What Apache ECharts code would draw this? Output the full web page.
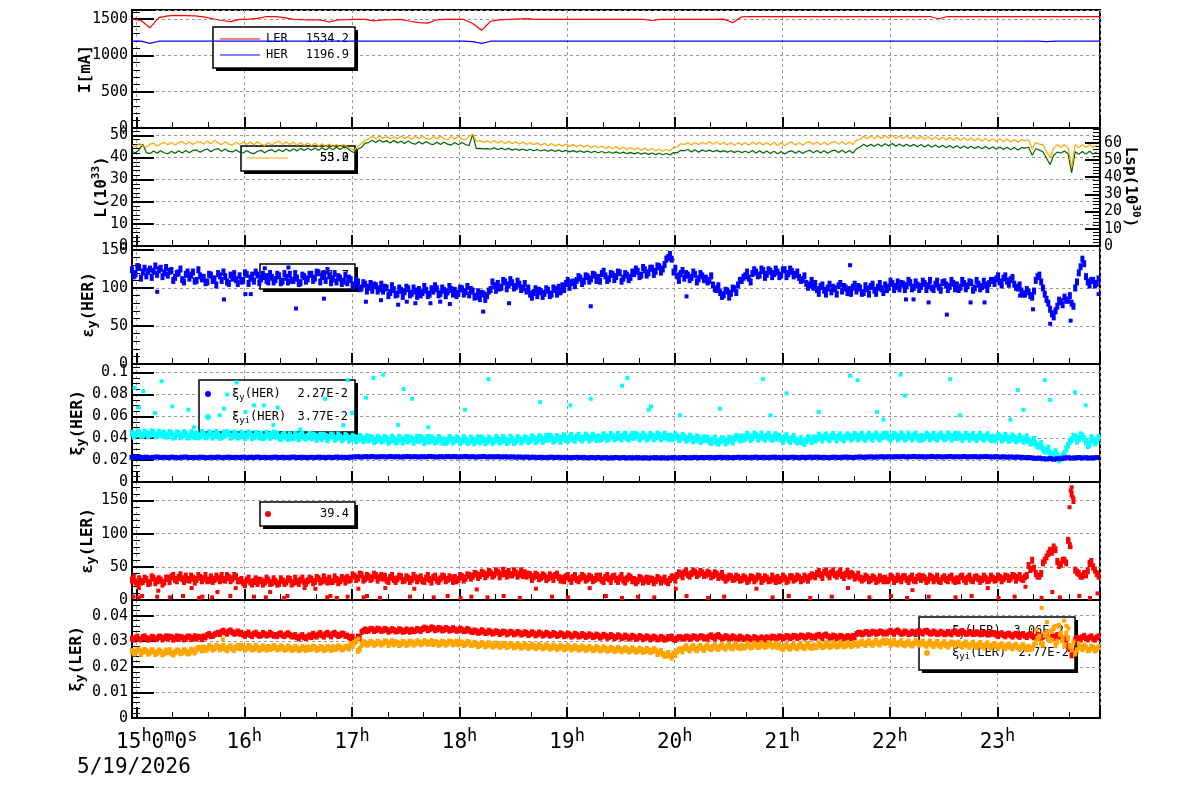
<!DOCTYPE html>
<html><head><meta charset="utf-8">
<script src="https://cdn.jsdelivr.net/npm/echarts/dist/echarts.min.js"></script>
<style>html,body{margin:0;padding:0;background:#fff}#c{width:1200px;height:798px}</style>
</head><body><div id="c"></div>
<script>
// ---------------- DATA ----------------
// time of first sample (left edge of the plot), hours
const START_H = 14.956;
const X_MIN = 14.956, X_MAX = 23.953;
const HOUR_TICKS = [15,16,17,18,19,20,21,22,23];

// beam currents, 5-min samples [mA]
const curLER = [
1500,1480,1380,1520,1545,1550,1548,1545,1530,1505,1480,1465,
1495,1500,1510,1535,1535,1520,1495,1492,1490,1488,1460,1490,
1492,1495,1495,1475,1490,1492,1495,1470,1450,1445,1490,1495,
1495,1495,1440,1345,1470,1490,1495,1500,1505,1495,1495,1495,
1495,1495,1495,1495,1495,1495,1495,1495,1495,1495,1480,1495,
1495,1495,1495,1495,1495,1495,1500,1450,1532,1535,1535,1535,
1535,1535,1535,1535,1535,1535,1535,1535,1535,1535,1535,1535,
1535,1535,1535,1535,1535,1535,1505,1535,1535,1535,1535,1535,
1535,1535,1535,1535,1535,1535,1535,1535,1535,1535,1535,1535,1535];
const curHER = [
1197,1197,1165,1195,1197,1197,1197,1197,1197,1197,1197,1197,
1197,1197,1197,1197,1197,1197,1197,1197,1197,1197,1197,1197,
1197,1197,1197,1197,1197,1197,1197,1197,1197,1197,1197,1197,
1197,1197,1190,1165,1195,1197,1197,1197,1197,1197,1197,1197,
1197,1197,1197,1197,1197,1197,1197,1197,1197,1197,1197,1197,
1197,1197,1197,1197,1197,1197,1197,1197,1197,1197,1197,1197,
1197,1197,1197,1197,1197,1197,1197,1197,1197,1197,1197,1197,
1197,1197,1197,1197,1197,1197,1197,1197,1197,1197,1197,1197,
1197,1197,1197,1197,1197,1197,1190,1197,1197,1197,1197,1197,1197];

// luminosity, 2-min samples (10^33 units)
const lumL = [
45.6,44.8,46.3,45.2,44.6,45.9,46.5,45.0,46.1,46.8,
45.7,46.9,45.5,46.7,47.3,45.9,47.0,45.8,46.9,47.2,
46.0,47.5,46.2,47.8,46.5,45.8,47.1,46.0,45.6,46.9,
45.8,46.9,45.9,47.0,45.7,47.1,46.0,45.4,46.8,45.6,
46.7,47.3,45.9,47.0,45.8,46.9,45.5,46.6,45.4,46.5,
45.3,46.4,45.1,46.2,44.9,46.1,44.8,45.9,44.7,45.8,
44.8,43.9,43.2,45.0,46.3,47.9,48.2,49.6,48.4,49.8,
48.6,49.5,48.3,49.2,48.5,49.7,48.6,49.4,48.2,49.6,
48.4,49.8,48.6,48.1,49.5,48.3,49.7,48.4,48.0,49.4,
48.3,49.6,48.4,48.0,49.5,50.5,47.2,47.6,46.8,47.5,
46.6,47.6,46.5,47.4,46.3,47.3,46.2,47.1,46.0,47.0,
45.8,46.8,45.7,46.6,45.5,46.4,45.3,46.3,45.2,46.0,
45.1,46.1,44.9,45.9,44.8,45.7,44.6,45.6,44.4,45.3,
44.3,45.2,44.1,45.0,43.9,44.9,43.7,44.7,43.6,44.5,
43.5,44.4,43.3,44.2,43.1,44.0,42.9,43.8,42.8,43.6,
42.9,44.5,44.8,46.2,45.8,46.7,45.6,46.8,45.7,46.9,
46.0,47.2,45.9,47.1,45.8,46.9,45.6,46.8,45.5,46.7,
45.6,46.7,45.5,47.0,45.8,46.9,45.6,46.8,45.5,46.9,
45.4,46.6,45.3,46.5,46.9,45.6,46.8,45.5,46.7,47.0,
45.8,47.0,45.7,46.9,45.6,46.8,47.2,45.9,47.1,45.8,
47.0,45.9,47.8,48.2,49.6,48.4,49.7,48.5,49.8,48.6,
49.9,48.7,50.0,48.6,49.8,48.5,49.7,48.4,49.6,48.3,
49.5,48.2,49.4,48.1,49.3,48.0,49.2,47.9,49.1,47.8,
49.0,47.7,48.9,47.6,48.8,47.5,48.7,47.4,48.6,47.3,
48.5,47.2,48.4,47.1,48.3,47.0,48.2,46.9,48.1,47.6,
47.9,43.8,46.9,46.0,45.8,42.5,40.0,44.3,45.7,44.6,
45.8,44.4,35.5,45.9,44.3,45.8,44.5,45.9,44.6,45.5];
const lumSp = [
42.7,42.1,43.5,46.0,42.2,41.7,42.9,41.9,43.0,42.0,
41.7,42.8,41.8,43.0,42.0,43.1,42.1,43.2,43.4,42.3,
43.3,43.8,42.6,43.6,44.0,42.8,43.8,42.7,42.5,43.5,
42.4,42.0,43.1,42.1,41.7,42.8,43.2,42.1,43.1,43.5,
42.5,43.6,42.6,43.8,42.8,43.9,42.9,44.1,43.1,44.2,
43.2,44.3,43.3,44.4,43.4,44.5,43.5,44.6,43.6,44.5,
44.3,42.9,42.1,43.8,44.5,46.5,46.7,47.8,46.8,47.9,
46.9,47.6,46.5,47.6,46.6,47.3,46.3,47.4,46.4,46.0,
47.1,46.1,47.2,46.2,45.8,46.9,45.9,47.0,46.0,45.6,
46.7,45.7,46.8,45.8,45.4,50.4,44.0,44.1,43.9,44.0,
43.7,44.3,43.6,44.2,43.5,44.1,43.3,43.9,43.2,43.8,
43.1,43.7,43.0,43.6,42.9,43.5,42.8,43.4,42.7,43.3,
42.6,43.2,42.5,43.1,42.4,43.0,42.3,42.9,42.2,42.8,
42.1,42.7,42.0,42.6,41.9,42.5,41.8,42.4,41.7,42.3,
41.6,42.2,41.5,42.1,41.4,42.0,41.3,41.9,41.2,41.8,
41.1,42.2,42.1,43.2,43.0,43.6,42.5,43.5,42.4,43.4,
42.7,43.3,42.6,43.2,42.5,43.1,42.4,43.0,42.3,42.9,
42.2,42.8,42.1,43.1,42.0,43.0,41.9,42.9,41.8,42.8,
41.7,42.7,41.6,42.6,43.0,41.9,42.9,41.8,42.8,43.2,
42.1,43.1,42.0,43.0,41.9,42.9,43.3,42.2,43.2,42.1,
43.1,42.0,43.9,44.7,45.9,44.9,46.0,45.0,46.1,45.1,
46.2,45.2,46.3,45.1,46.1,45.0,46.0,44.9,45.9,44.8,
45.8,44.7,45.7,44.6,45.6,44.5,45.5,44.4,45.4,44.3,
45.3,44.2,45.2,44.1,45.1,44.0,45.0,43.9,44.9,43.8,
44.8,43.7,44.7,43.6,44.6,43.5,44.5,43.4,44.4,44.2,
44.6,41.0,43.9,43.3,42.6,39.6,36.8,41.0,42.4,42.0,
42.9,41.7,33.0,42.6,41.4,42.7,41.5,42.8,41.6,42.5];

// vertical emittance HER: even-minute readings (A) and odd-minute readings (B)
const epsHER = [
124,119,127,121,116,125,122,118,126,120,
117,123,114,120,111,118,113,121,110,116,
114,108,117,112,119,110,115,106,113,111,
116,110,118,113,109,117,112,115,108,114,
111,116,109,114,118,110,113,107,115,112,
118,113,120,115,110,116,112,108,113,109,
107,111,104,108,100,105,101,97,103,99,
96,100,94,98,92,97,95,99,93,96,
98,94,97,92,96,99,93,97,95,98,
97,93,99,95,91,96,89,86,92,90,
98,103,106,101,108,104,107,102,105,100,
96,92,94,90,95,93,97,92,98,101,
103,106,101,108,110,113,109,115,112,117,
114,119,116,112,118,115,120,113,117,114,
119,122,117,124,120,126,122,128,125,138,
144,121,116,119,113,117,114,118,112,116,
113,110,104,98,94,91,96,93,99,104,
110,116,113,119,121,117,123,118,122,119,
121,117,124,119,122,118,114,111,106,104,
101,98,102,97,100,95,99,103,96,100,
98,101,96,100,94,99,102,97,101,99,
104,101,106,102,99,105,103,107,101,104,
102,106,103,100,105,101,107,104,102,106,
104,101,106,103,107,100,105,102,104,106,
110,112,108,113,109,111,105,100,96,92,
95,88,110,117,100,85,72,62,76,82,
88,84,80,100,120,138,115,104,110,106];
const epsHER_b = [
116,128,113,126,122,114,129,124,115,127,
122,110,119,125,108,121,117,109,124,112,
107,118,110,104,116,121,108,117,119,106,
109,120,106,117,121,107,118,110,119,108,
118,107,119,108,110,119,106,117,109,118,
110,121,108,118,123,107,119,115,106,117,
113,103,110,99,107,96,106,104,96,105,
101,90,103,91,100,89,101,91,100,89,
91,102,90,99,103,91,100,90,102,92,
90,100,92,102,98,88,95,93,85,96,
108,97,100,110,99,111,100,109,98,106,
100,88,99,97,89,99,90,100,92,95,
98,110,107,103,115,106,116,109,118,110,
109,122,110,119,111,121,109,119,111,121,
125,115,127,117,126,118,129,121,131,140,
138,126,110,123,119,111,121,108,119,111,
108,116,99,103,89,97,88,100,94,110,
114,121,108,124,116,125,114,124,115,125,
115,124,115,125,116,121,110,116,101,110,
106,93,104,92,105,101,92,106,102,94,
93,105,102,93,103,92,105,93,106,94,
98,109,98,108,106,98,110,99,108,98,
109,98,110,98,109,97,108,98,110,99,
98,110,99,108,97,110,99,109,98,110,
106,116,104,116,105,114,101,104,92,98,
90,96,115,108,92,80,66,70,84,78,
84,90,76,108,128,132,108,110,104,112];
const epsHERout = [[15.01,130],[15.19,95],[15.81,85],[16.01,92],[16.06,92],[16.19,126],[16.41,127],[16.48,73],[16.74,86],[17.13,82],[17.27,84],[17.43,78],[17.51,82],[17.59,80],[17.73,80],[17.82,82],[17.91,79],[18.22,69],[18.46,80],[19.22,76],[20.11,89],[21.63,130],[22.15,85],[22.22,85],[22.36,81],[22.53,65],[22.75,81],[22.88,81],[23.21,90],[23.33,72],[23.49,53],[23.68,57],[23.94,92]];

// beam-beam parameter HER (units of 1e-3), 2-min samples
const xiHER = [
22.6,22.3,22.8,22.4,22.7,22.2,22.5,22.9,22.4,22.6,
22.3,22.7,22.5,22.2,22.6,22.8,22.4,22.5,22.3,22.7,
22.5,22.2,22.6,22.4,22.8,22.3,22.5,22.7,22.4,22.6,
22.4,22.7,22.3,22.6,22.5,22.8,22.4,22.6,22.3,22.5,
22.7,22.4,22.6,22.3,22.5,22.8,22.4,22.6,22.5,22.3,
22.6,22.4,22.7,22.5,22.3,22.6,22.4,22.8,22.5,22.6,
22.4,22.7,22.9,23.1,22.8,23.2,23.0,23.3,22.9,23.1,
23.2,22.9,23.3,23.0,23.2,22.8,23.1,23.3,23.0,23.2,
22.9,23.2,23.0,23.3,23.1,22.8,23.2,23.0,23.3,23.1,
23.2,22.9,23.1,23.3,23.0,23.2,22.8,23.1,23.3,22.9,
23.1,23.0,23.2,22.9,23.1,22.8,23.0,22.7,22.9,22.6,
22.8,22.5,22.7,22.4,22.6,22.3,22.5,22.7,22.4,22.6,
22.3,22.5,22.2,22.4,22.6,22.3,22.5,22.1,22.4,22.2,
22.4,22.1,22.3,22.0,22.2,22.4,22.1,22.3,22.0,22.2,
22.1,22.3,22.0,22.2,21.9,22.1,22.3,22.0,22.2,21.9,
22.1,22.3,22.0,22.2,22.4,22.1,22.3,22.5,22.2,22.4,
22.3,22.5,22.2,22.4,22.6,22.3,22.5,22.2,22.4,22.6,
22.4,22.6,22.3,22.5,22.7,22.4,22.6,22.3,22.5,22.7,
22.5,22.3,22.6,22.4,22.7,22.5,22.3,22.6,22.4,22.7,
22.5,22.8,22.4,22.6,22.3,22.5,22.7,22.4,22.6,22.8,
22.6,22.4,22.7,22.9,22.6,22.8,23.0,22.7,22.9,23.1,
22.8,23.1,22.9,23.2,23.0,23.3,22.9,23.1,23.3,23.0,
23.2,22.9,23.1,23.3,23.0,23.2,22.9,23.1,23.3,23.0,
23.2,23.0,23.3,22.9,23.1,23.2,22.9,23.1,23.3,23.0,
22.9,23.1,22.8,23.0,22.7,22.9,22.6,22.8,22.5,22.3,
22.4,22.0,21.6,21.9,21.3,21.0,21.4,20.8,21.2,21.6,
21.9,22.2,21.8,22.1,22.3,22.0,22.2,21.9,22.1,22.3];
const xiyiHER = [
44.5,43.2,45.1,42.8,44.0,43.5,45.3,42.6,43.8,44.6,
42.4,43.9,41.8,44.2,42.9,43.6,41.5,43.1,44.0,42.3,
43.5,41.9,44.1,42.6,43.3,41.4,42.8,44.4,42.0,43.2,
41.8,43.5,42.2,44.0,41.6,42.9,43.8,41.3,42.7,43.4,
42.0,40.8,42.5,41.2,43.1,40.6,41.9,42.7,40.9,41.6,
40.4,42.0,41.1,39.8,41.5,40.7,42.2,40.1,41.3,40.0,
41.2,39.6,40.5,38.9,40.3,39.1,38.4,39.8,38.0,39.3,
38.2,39.6,37.8,38.9,37.4,39.2,38.1,37.6,39.0,38.3,
37.9,39.4,38.1,37.3,38.8,37.7,39.1,38.4,37.5,38.9,
38.0,39.2,37.6,38.7,37.2,38.5,37.9,36.8,38.3,37.4,
38.6,37.5,39.0,37.9,38.4,37.1,38.8,37.6,39.2,38.1,
39.4,38.2,39.7,38.6,40.1,38.9,39.3,40.2,38.7,39.8,
40.3,39.1,40.6,39.5,41.0,39.8,40.4,41.2,39.9,40.7,
41.1,40.0,41.5,40.3,41.8,40.6,41.2,42.0,40.5,41.4,
40.8,42.1,41.0,41.7,40.4,41.9,41.2,42.3,40.9,41.5,
41.8,40.6,41.3,40.1,40.8,39.5,40.2,38.9,39.6,38.4,
38.9,37.6,38.3,36.8,37.5,38.6,37.2,38.9,39.8,40.6,
41.2,40.3,41.9,40.6,42.4,41.1,40.5,41.7,40.2,41.0,
40.1,39.3,40.4,38.8,39.6,38.2,37.4,36.6,38.0,39.2,
40.1,39.5,40.8,41.3,40.4,41.7,40.9,41.5,40.2,41.1,
41.6,40.7,41.9,41.2,40.5,41.8,41.0,42.2,40.8,41.4,
41.9,40.6,41.5,42.1,41.0,41.7,40.4,41.3,42.0,40.9,
41.6,40.8,42.2,41.1,40.5,41.9,41.3,40.7,41.8,41.2,
40.6,41.5,40.9,41.9,41.2,40.4,41.6,40.8,41.4,40.3,
41.0,40.2,41.3,39.8,40.6,39.5,40.1,38.8,39.6,38.5,
37.9,36.4,34.8,32.6,30.1,28.3,26.5,25.1,23.8,21.5,
26.0,33.5,38.8,41.2,39.4,42.0,36.8,34.5,38.2,37.6];
const xiyiHER_b = [
42.0,45.8,42.6,45.5,42.3,45.9,42.1,45.4,42.9,41.9,
45.2,41.0,44.8,41.3,45.0,41.1,44.9,41.6,41.2,45.1,
41.2,44.9,41.0,45.2,40.8,44.6,45.1,40.9,44.7,41.1,
44.7,40.6,44.9,40.5,44.3,41.2,40.4,44.6,40.9,44.8,
43.8,39.6,43.5,39.9,40.3,43.7,39.5,43.9,40.1,43.6,
42.9,39.0,42.7,42.6,38.7,42.8,39.1,42.9,38.6,42.5,
38.2,41.8,37.6,41.6,37.9,41.2,40.6,37.2,41.0,37.5,
40.6,36.3,40.9,36.6,40.8,36.4,40.5,40.4,36.3,40.7,
40.6,36.2,40.8,40.3,36.5,40.6,36.4,36.2,40.7,36.6,
40.4,36.1,40.5,36.0,40.1,35.9,40.3,40.2,36.0,40.1,
36.0,40.6,36.4,40.8,36.1,40.7,36.2,40.5,36.6,40.4,
37.1,41.2,36.9,41.5,37.0,41.6,41.8,37.3,41.4,37.2,
42.2,38.0,42.5,38.1,42.6,38.3,42.9,38.4,42.7,38.8,
39.1,43.2,39.0,43.4,39.4,43.6,39.5,43.7,39.2,43.5,
43.4,39.2,43.6,39.3,43.5,39.4,43.8,39.5,43.7,39.6,
39.5,43.2,38.8,42.4,38.3,41.9,37.6,41.2,37.1,40.3,
40.1,36.0,40.2,35.4,39.6,35.8,39.9,36.7,41.6,38.5,
39.0,43.5,38.9,43.7,39.2,43.8,39.1,43.6,39.0,43.2,
41.8,37.1,42.3,37.0,41.5,36.6,39.6,35.2,40.4,37.0,
38.2,42.9,38.3,43.0,38.5,43.4,38.6,43.2,38.4,43.1,
39.2,43.5,39.4,43.7,39.0,43.6,39.1,43.8,39.3,43.4,
43.6,39.1,43.5,39.3,43.9,39.2,43.7,39.4,43.8,39.0,
39.3,43.7,39.5,43.6,39.1,43.8,39.4,43.9,39.2,43.5,
43.3,39.0,43.6,39.2,43.4,38.9,43.5,39.1,43.2,38.8,
38.5,42.7,38.3,42.5,38.0,42.1,37.6,41.7,37.3,41.2,
35.7,38.9,32.9,35.2,28.4,31.0,24.8,27.6,20.2,24.0,
30.2,36.9,41.7,37.5,43.1,39.6,33.2,40.4,35.7,40.6];
const xiyiHERout = [[14.98,86],[15.02,68],[15.06,83],[15.17,63],[15.23,92],[15.33,69],[15.48,66],[15.53,50],[15.77,61],[15.81,67],[15.84,80],[15.93,91],[16.01,64],[16.09,70],[16.18,70],[16.27,52],[16.31,68],[16.52,48],[16.75,76],[16.92,52],[16.96,93],[17.0,63],[17.13,77],[17.2,95],[17.29,98],[17.43,52],[17.48,85],[17.56,76],[17.71,50],[18.05,66],[18.27,94],[18.75,73],[19.03,70],[19.22,76],[19.51,88],[19.56,95],[19.76,66],[19.78,69],[20.05,61],[20.42,67],[20.82,94],[20.89,61],[21.04,81],[21.34,64],[21.63,97],[21.7,93],[21.88,64],[21.94,57],[22.1,98],[22.14,79],[22.56,94],[22.65,61],[23.12,57],[23.19,84],[23.24,66],[23.44,93],[23.49,75],[23.72,82],[23.82,70]];

// vertical emittance LER, even (A) and odd (B) minute readings
const epsLER = [
30,27,32,28,31,26,33,29,30,27,
33,35,31,34,32,36,30,33,31,34,
32,29,35,31,33,37,30,34,32,35,
29,26,30,27,28,25,29,27,30,26,
28,25,29,27,31,26,28,30,27,29,
31,28,32,29,30,33,28,31,29,32,
34,31,36,33,38,32,35,33,37,34,
33,30,34,31,32,35,30,33,31,34,
32,29,33,31,34,30,32,35,31,33,
34,31,35,33,37,36,39,37,40,38,
41,38,42,39,40,43,38,41,39,37,
36,38,35,37,34,36,33,35,37,34,
33,35,32,34,31,33,35,32,34,31,
33,30,34,32,35,31,33,30,32,34,
31,29,32,30,28,31,29,32,30,28,
31,34,37,39,41,38,40,42,39,41,
38,40,37,39,36,34,33,35,32,34,
31,33,30,34,32,35,31,33,30,32,
34,31,33,30,35,32,34,31,33,35,
37,40,38,42,39,41,38,40,37,39,
36,38,35,33,32,34,31,33,30,32,
33,30,34,31,32,35,31,33,30,34,
31,33,30,34,32,29,33,31,34,30,
32,35,31,33,30,34,32,31,33,30,
33,31,34,32,35,33,36,34,32,35,
52,60,40,36,56,65,75,80,58,54,
60,90,160,45,40,36,38,55,50,40];
const epsLER_b = [
34,24,27,33,25,35,26,32,24,33,
28,37,29,38,28,31,36,27,37,29,
37,30,28,36,29,31,37,29,37,29,
31,23,33,24,32,30,24,33,25,32,
24,32,25,32,24,33,25,33,25,33,
26,34,27,35,27,28,35,26,34,27,
30,38,31,39,30,37,31,39,30,37,
36,28,37,28,36,29,35,28,37,29,
35,28,37,27,36,28,36,29,35,28,
29,37,30,38,33,40,34,42,35,43,
36,44,35,45,36,38,44,36,44,41,
39,31,39,32,38,31,38,31,39,30,
29,37,28,37,29,37,30,36,29,36,
36,28,37,28,36,28,37,27,36,29,
26,34,27,33,32,26,34,27,33,26,
35,30,41,35,44,36,44,37,43,37,
42,35,41,34,40,30,36,31,36,30,
35,28,35,29,36,28,35,29,36,28,
29,36,28,35,30,36,29,36,30,38,
35,43,34,44,35,44,36,44,34,43,
40,33,39,30,36,29,35,28,35,29,
29,36,28,36,29,35,28,36,29,36,
35,28,36,29,36,28,35,29,36,28,
29,36,28,36,29,35,28,36,29,36,
30,36,29,36,31,37,30,37,31,37,
46,48,36,40,60,70,72,76,52,60,
56,82,150,42,36,40,44,58,45,36];
const epsLERout = [[14.97,5],[15.02,18],[15.02,4],[15.05,6],[15.19,5],[15.2,14],[15.31,4],[15.43,6],[15.51,18],[15.58,3],[15.61,5],[15.7,4],[15.75,12],[15.87,6],[15.92,18],[16.09,5],[16.2,4],[16.24,12],[16.37,3],[16.4,6],[16.56,18],[16.66,17],[16.77,4],[16.8,6],[16.86,3],[16.96,5],[17.06,17],[17.11,4],[17.14,6],[17.26,3],[17.31,18],[17.54,5],[17.58,17],[17.76,4],[17.89,6],[18.01,3],[18.11,5],[18.16,16],[18.26,4],[18.41,6],[18.56,3],[18.71,17],[18.86,5],[19.01,4],[19.21,18],[19.36,6],[19.51,3],[19.66,5],[19.81,4],[20.01,17],[20.11,6],[20.31,3],[20.46,5],[20.76,17],[20.91,4],[21.06,6],[21.26,3],[21.46,5],[21.61,18],[21.81,4],[22.01,6],[22.16,3],[22.21,15],[22.36,5],[22.61,4],[22.76,6],[22.91,18],[23.01,3],[23.16,5],[23.26,20],[23.41,3],[23.51,12],[23.58,4],[23.76,6],[23.86,3],[23.93,10],[23.67,140],[23.68,165],[23.69,170],[23.7,155],[23.66,90],[23.68,80]];

// beam-beam parameters LER (units of 1e-3), even (A) and odd (B) minute readings
const xiLER = [
31.0,31.4,30.8,31.6,31.2,30.9,31.5,31.1,31.7,31.3,
31.0,31.6,31.2,30.9,31.5,31.1,31.8,31.3,31.0,31.6,
31.9,32.4,32.0,32.6,33.3,33.7,33.4,33.8,33.5,33.2,
32.9,32.5,32.8,32.4,32.9,32.6,32.3,32.8,32.5,32.7,
32.4,32.8,32.3,32.7,32.5,31.9,31.6,31.9,31.5,31.8,
31.6,32.2,32.6,32.3,32.8,32.5,32.9,32.6,32.4,32.8,
32.2,31.2,30.0,31.8,33.6,34.6,34.2,34.7,34.3,34.6,
34.2,34.5,34.1,34.4,34.0,34.3,33.9,34.2,34.5,34.1,
34.4,34.8,35.0,34.7,35.1,34.6,34.9,34.5,34.8,34.4,
34.6,34.2,34.5,34.1,34.3,33.6,33.9,33.5,33.8,33.4,
33.7,33.3,33.6,33.2,33.5,33.1,33.4,33.0,33.3,32.9,
33.2,32.8,33.1,32.7,33.0,32.6,32.9,32.5,32.8,32.4,
32.7,32.3,32.6,32.2,32.5,32.1,32.4,32.0,32.3,31.9,
32.2,31.8,32.1,31.7,32.0,31.6,31.9,31.5,31.8,31.4,
31.7,31.3,31.6,31.2,31.5,31.1,31.4,31.0,31.3,30.9,
31.2,30.8,31.1,31.5,31.2,31.6,31.3,31.7,31.4,31.8,
31.5,31.9,31.6,32.0,31.7,31.3,31.6,31.2,31.5,31.1,
31.4,31.0,31.3,30.9,31.2,30.8,31.1,31.5,31.2,31.6,
31.3,31.7,31.4,31.8,31.5,31.9,31.6,32.0,31.7,32.1,
31.8,32.2,31.9,32.3,32.0,31.6,31.9,31.5,31.8,31.4,
31.7,32.1,32.8,33.3,33.0,33.4,33.1,33.5,33.2,33.6,
33.3,33.7,33.4,33.8,33.5,33.1,33.4,33.0,33.3,33.7,
33.4,33.8,33.5,33.1,33.4,33.0,33.3,32.9,33.2,33.6,
33.3,33.7,33.4,33.0,33.3,32.9,33.2,32.8,33.1,32.7,
32.9,32.5,32.8,32.4,32.7,32.3,32.6,32.2,32.5,32.1,
32.4,32.0,31.6,32.3,31.8,32.2,30.5,31.9,32.4,31.7,
31.2,28.0,24.5,30.6,31.2,31.6,31.1,31.5,31.0,31.4];
const xiLER_b = [
30.6,31.8,30.7,31.9,30.6,31.7,30.8,31.8,30.7,31.9,
31.8,30.6,31.9,31.7,30.7,31.8,30.8,31.9,31.7,30.8,
31.5,32.8,32.1,33.0,32.8,34.1,32.9,34.2,32.9,33.8,
33.3,32.1,33.4,32.0,33.3,32.1,33.2,32.2,33.3,32.1,
32.0,33.1,32.0,33.1,31.9,32.4,31.1,32.4,31.2,32.3,
32.9,31.8,33.2,31.8,33.3,31.9,33.3,32.0,33.0,32.1,
31.6,31.8,30.6,31.2,34.1,34.0,34.8,34.0,34.9,34.0,
34.8,33.7,34.7,33.8,34.7,33.7,34.6,33.7,34.0,34.8,
34.0,35.3,34.3,35.4,34.3,35.2,34.2,35.2,34.1,35.1,
34.1,34.9,33.9,34.8,33.8,34.2,33.3,34.3,33.2,34.1,
33.0,33.9,32.8,33.8,32.7,33.7,32.7,33.6,32.6,33.5,
32.4,33.5,32.3,33.4,32.2,33.3,32.2,33.2,32.1,33.1,
32.0,33.0,31.8,32.9,31.8,32.8,31.7,32.7,31.6,32.6,
31.4,32.5,31.3,32.4,31.2,32.3,31.2,32.2,31.1,32.1,
30.9,32.0,30.8,31.9,30.7,31.8,30.7,31.7,30.6,31.6,
31.8,30.5,31.6,31.0,31.8,30.9,31.9,31.1,31.9,31.2,
31.0,32.3,31.1,32.4,31.1,32.0,31.0,31.9,31.0,31.8,
30.9,31.6,30.7,31.6,30.7,31.5,30.6,31.0,31.8,31.0,
31.9,31.1,32.0,31.2,32.1,31.3,32.2,31.4,32.3,31.5,
31.4,32.5,31.3,32.6,31.4,32.2,31.2,32.1,31.1,32.0,
31.2,31.6,33.2,32.7,33.6,32.8,33.7,32.9,33.8,33.0,
33.0,34.1,32.9,34.2,32.9,33.8,32.8,33.7,32.8,34.0,
33.0,34.1,33.0,33.8,32.8,33.7,32.7,33.6,32.7,33.9,
32.9,34.0,32.9,33.6,32.8,33.5,32.7,33.4,32.6,33.3,
33.2,32.0,33.1,31.9,33.0,31.8,32.9,31.7,32.8,31.6,
32.8,31.5,32.5,31.2,32.6,31.0,32.0,31.2,32.0,30.8,
30.5,27.0,26.0,31.3,30.6,32.1,30.7,31.9,30.6,31.9];
const xiyiLER = [
26.1,25.7,26.4,25.9,26.2,25.6,26.0,25.5,25.9,25.4,
25.8,25.3,25.7,26.1,25.6,26.0,25.5,26.3,26.8,27.2,
27.5,27.1,27.6,27.2,27.8,27.4,27.0,27.5,27.1,27.6,
27.3,27.7,27.2,27.6,27.1,27.5,27.0,27.4,27.8,27.3,
27.6,27.1,27.5,27.0,27.4,26.9,27.3,26.8,27.2,27.6,
27.1,27.5,27.0,27.4,26.9,27.3,27.7,27.2,27.6,27.1,
27.8,28.9,29.4,26.2,28.6,29.3,28.9,29.4,29.0,29.5,
29.1,29.6,29.2,28.8,29.3,28.9,29.4,29.0,29.5,29.1,
29.6,29.2,29.7,29.3,28.9,29.4,29.0,29.5,29.1,29.6,
29.2,28.8,29.3,28.9,29.4,28.6,28.9,28.5,28.8,28.4,
28.7,28.3,28.6,28.2,28.5,28.1,28.4,28.0,28.3,27.9,
28.2,27.8,28.1,27.7,28.0,27.6,27.9,27.5,27.8,27.4,
27.7,27.3,27.6,27.2,27.5,27.1,27.4,27.0,27.3,26.9,
27.2,26.8,27.1,26.7,27.0,26.6,26.9,26.5,26.8,26.4,
26.7,26.3,26.6,26.2,26.5,26.1,26.4,25.6,25.0,24.6,
24.3,25.2,26.0,26.8,27.4,27.0,27.5,27.1,27.6,27.2,
27.7,27.3,27.8,27.4,27.9,27.5,28.0,27.6,28.1,27.7,
28.2,27.8,28.3,27.9,28.4,28.0,28.5,28.1,28.6,28.2,
27.8,27.4,27.9,27.5,28.0,27.6,28.1,27.7,28.2,27.8,
28.3,27.9,28.4,28.0,28.5,28.1,28.6,28.2,28.7,28.3,
28.8,28.4,28.9,29.2,29.0,29.4,29.1,29.5,29.2,29.6,
29.3,29.7,29.4,29.0,29.3,28.9,29.2,28.8,29.1,29.5,
29.2,28.8,29.1,28.7,29.0,28.6,28.9,28.5,28.8,29.2,
28.9,28.5,28.8,28.4,28.7,28.3,28.6,28.2,28.5,28.1,
28.4,28.0,28.3,27.9,28.2,27.8,28.1,27.6,27.9,27.5,
27.8,27.2,29.5,31.8,28.6,33.5,30.4,35.2,29.8,33.0,
28.5,31.2,27.0,25.2,28.8,26.9,27.5,26.8,27.4,27.0];
const xiyiLER_b = [
25.2,26.7,25.0,26.6,25.1,26.5,25.0,26.4,24.9,26.3,
26.5,24.8,26.4,25.3,26.5,25.2,26.6,25.6,27.4,26.4,
26.6,28.2,26.7,28.3,26.8,28.2,26.5,28.1,26.6,28.2,
28.2,26.7,28.1,26.8,28.2,26.6,28.0,26.7,27.0,28.1,
26.8,28.0,26.7,27.9,26.6,27.8,26.5,27.7,26.6,26.9,
27.9,26.6,27.8,26.5,27.8,26.6,27.0,28.0,26.8,27.9,
27.2,28.2,30.0,27.0,29.4,28.6,29.8,28.6,29.8,28.7,
29.9,28.5,29.9,29.6,28.5,29.7,28.6,29.8,28.7,29.9,
28.8,30.0,28.9,30.1,29.7,28.6,29.8,28.7,29.9,28.8,
29.8,29.6,28.5,29.7,28.6,29.4,28.1,29.3,28.0,29.2,
27.9,29.1,27.8,29.0,27.7,28.9,27.6,28.8,27.5,28.7,
27.4,28.6,27.3,28.5,27.2,28.4,27.1,28.3,27.0,28.2,
26.9,28.1,26.8,28.0,26.7,27.9,26.6,27.8,26.5,27.7,
26.4,27.6,26.3,27.5,26.2,27.4,26.1,27.3,26.0,27.2,
25.9,27.1,25.8,27.0,25.7,26.9,25.0,26.2,24.2,25.4,
23.6,24.6,26.7,26.0,28.0,26.4,28.1,26.5,28.2,26.6,
28.4,26.9,28.5,27.0,28.6,27.1,28.7,27.2,28.8,27.3,
27.5,29.0,27.6,29.1,27.7,29.2,27.8,29.3,27.9,29.0,
28.5,27.0,28.6,27.1,28.7,27.2,28.8,27.3,28.9,27.4,
27.6,29.1,27.7,29.2,27.8,29.3,27.9,29.4,28.0,29.1,
28.1,29.3,28.3,29.9,28.5,30.1,28.6,30.2,28.7,30.3,
30.1,28.6,30.2,28.7,30.0,28.4,29.9,28.3,30.0,28.7,
29.8,28.2,29.9,28.1,29.7,28.0,29.6,27.9,29.5,28.4,
29.4,27.9,29.5,27.8,29.4,27.7,29.3,27.6,29.2,27.5,
28.9,27.4,28.8,27.3,28.7,27.2,28.6,27.0,28.5,26.9,
27.0,28.5,31.0,29.2,32.5,31.0,34.0,28.5,36.0,31.2,
33.0,28.0,29.5,26.5,27.8,28.2,26.5,27.9,26.4,27.8];
const xiyiLERout = [[15.8,30.8],[17.06,31],[17.11,30],[23.36,34.5],[23.41,43],[23.46,37.5],[23.49,34],[23.51,30.5],[23.54,36],[23.58,32.5],[23.6,30],[23.62,38],[23.64,36],[23.66,35]];

// legend read-outs
const LEG_I = [['LER','1534.2'],['HER','1196.9']];
const LEG_L = ['55.2','53.0'];
const LEG_EPS_HER = '91.7';
const LEG_XI_HER = [['ξ{s|y}(HER)','2.27E-2'],['ξ{s|yi}(HER)','3.77E-2']];
const LEG_EPS_LER = '39.4';
const LEG_XI_LER = [['ξ{s|y}(LER)','3.06E-2'],['ξ{s|yi}(LER)','2.77E-2']];
const DATE_LABEL = '5/19/2026';

// ---------------- CHART ----------------
const MONO = '"DejaVu Sans Mono", monospace';
function sampled(vals, stepMin, offMin){ return vals.map((v,i)=>[START_H + ((offMin||0) + i*stepMin)/60, v]); }
function twoSets(a, b){ return sampled(a,2,0).concat(sampled(b,2,1)); }

const TOP0 = 10, PH = 118;
const grids = [], xAxes = [], yAxes = [];
const panels = [
 {max:1625, interval:500, minor:5, fmt:v=>String(v), name:'I[mA]', gap:38},
 {max:53.3, interval:10, minor:5, fmt:v=>String(v), name:'L(10{sup|33})', gap:20},
 {max:155.3, interval:50, minor:5, fmt:v=>String(v), name:'ε{sub|y}(HER)', gap:33},
 {max:107.8, interval:20, minor:4, fmt:v=>v===0?'0':String(v/1000), name:'ξ{sub|y}(HER)', gap:44},
 {max:178, interval:50, minor:5, fmt:v=>String(v), name:'ε{sub|y}(LER)', gap:34},
 {max:46.1, interval:10, minor:5, fmt:v=>v===0?'0':String(v/1000), name:'ξ{sub|y}(LER)', gap:45}
];
const nameRich = {
  sup:{fontFamily:MONO, fontSize:11, fontWeight:'bold', padding:[0,0,10,0]},
  sub:{fontFamily:MONO, fontSize:13, fontWeight:'bold', padding:[8,0,0,0]}
};
const splitStyle = {show:true, lineStyle:{color:'#999', type:[3,3], width:1}};
panels.forEach((p,i)=>{
  grids.push({left:132, right:100, top:TOP0+i*PH, height:PH, show:true, borderColor:'#000', borderWidth:2, backgroundColor:'transparent'});
  const last = i===panels.length-1;
  xAxes.push({type:'value', gridIndex:i, min:X_MIN, max:X_MAX, splitNumber:9,
    axisLine:{show:true, onZero:false, lineStyle:{color:'#000', width:2}},
    axisTick:{show:true, inside:true, length:11, lineStyle:{color:'#000', width:2}},
    minorTick:{show:true, splitNumber:3, length:6, lineStyle:{color:'#000', width:1}},
    splitLine:splitStyle,
    axisLabel:{show:last, margin:10, color:'#000', fontFamily:MONO, fontSize:21,
      formatter:v=>{
        if (Math.abs(v-Math.round(v))>1e-6) return '';
        const h=Math.round(v);
        if (HOUR_TICKS.indexOf(h)<0) return '';
        if (h===HOUR_TICKS[0]) return '{pad| }{n|15}{sup|h}{n|0}{sup|m}{n|0}{sup|s}';
        return '{n|'+h+'}{sup|h}';
      },
      rich:{n:{fontFamily:MONO, fontSize:21, lineHeight:26}, sup:{fontFamily:MONO, fontSize:17, padding:[0,0,12,0]}, pad:{width:40}}}
  });
  yAxes.push({type:'value', gridIndex:i, min:0, max:p.max, interval:p.interval, position:'left',
    axisLine:{show:true, onZero:false, lineStyle:{color:'#000', width:2}},
    axisTick:{show:true, inside:true, length:22, lineStyle:{color:'#000', width:2}},
    minorTick:{show:true, splitNumber:p.minor, length:8, lineStyle:{color:'#000', width:1}},
    splitLine:splitStyle,
    axisLabel:{margin:4, color:'#000', fontFamily:MONO, fontSize:15, showMaxLabel:false,
      formatter:v=>{ const k=v/p.interval; return Math.abs(k-Math.round(k))<1e-6 ? p.fmt(v) : ''; }},
    name:p.name, nameLocation:'middle', nameRotate:90, nameGap:p.gap, nameMoveOverlap:false,
    nameTextStyle:{fontFamily:MONO, fontSize:16, fontWeight:'bold', color:'#000', rich:nameRich}
  });
});
// right axis of panel 2 (Lsp)
yAxes.push({type:'value', gridIndex:1, min:0, max:68.5, interval:10, position:'right',
  axisLine:{show:true, onZero:false, lineStyle:{color:'#000', width:2}},
  axisTick:{show:true, inside:true, length:15, lineStyle:{color:'#000', width:2}},
  minorTick:{show:true, splitNumber:5, length:7, lineStyle:{color:'#000', width:1}},
  splitLine:{show:false},
  axisLabel:{margin:4, color:'#000', fontFamily:MONO, fontSize:15, showMaxLabel:false,
    formatter:v=>{ const k=v/10; return Math.abs(k-Math.round(k))<1e-6 ? String(v) : ''; }},
  name:'Lsp(10{sup|30})', nameLocation:'middle', nameRotate:-90, nameGap:20, nameMoveOverlap:false,
  nameTextStyle:{fontFamily:MONO, fontSize:16, fontWeight:'bold', color:'#000', rich:nameRich}
});

const BAND = [4,7];
function sc(name, data, xi, yi, color, size){
  return {name, type:'scatter', xAxisIndex:xi, yAxisIndex:yi, data, symbol:'rect', symbolSize:size||4,
    itemStyle:{color, opacity:1}, silent:true, animation:false, large:false, progressive:0};
}
function ln(name, data, xi, yi, color){
  return {name, type:'line', xAxisIndex:xi, yAxisIndex:yi, data, showSymbol:false, symbol:'none',
    lineStyle:{color, width:1.2}, silent:true, animation:false};
}
const series = [
  ln('HER', sampled(curHER,5), 0, 0, '#0000ff'),
  ln('LER', sampled(curLER,5), 0, 0, '#ff0000'),
  ln('Lsp', sampled(lumSp,2), 1, 1, '#006400'),
  ln('L', sampled(lumL,2), 1, 1, '#ffa500'),
  sc('epsHER', twoSets(epsHER, epsHER_b), 2, 2, '#0000ff', BAND),
  sc('epsHERout', epsHERout, 2, 2, '#0000ff', 4),
  sc('xiyiHER', twoSets(xiyiHER, xiyiHER_b), 3, 3, '#00ffff', BAND),
  sc('xiyiHERout', xiyiHERout, 3, 3, '#00ffff', 4),
  sc('xiHER', sampled(xiHER,2), 3, 3, '#0000ff', 5),
  sc('epsLER', twoSets(epsLER, epsLER_b), 4, 4, '#ff0000', BAND),
  sc('epsLERout', epsLERout, 4, 4, '#ff0000', 4),
  sc('xiLER', twoSets(xiLER, xiLER_b), 5, 5, '#ff0000', [4,6]),
  sc('xiyiLER', twoSets(xiyiLER, xiyiLER_b), 5, 5, '#ffa500', [4,6]),
  sc('xiyiLERout', xiyiLERout, 5, 5, '#ffa500', 4)
];

// legend boxes (drawn under the data, like the original)
const G = [];
const LF = '12px ' + MONO;
const legRich = {s:{font:'9px '+MONO, padding:[7,0,0,0]}};
function box(x,y,w,h){
  G.push({type:'rect', z:1, shape:{x:x+3,y:y+3,width:w,height:h}, style:{fill:'#000'}});
  G.push({type:'rect', z:1, shape:{x:x,y:y,width:w,height:h}, style:{fill:'#fff', stroke:'#000', lineWidth:1.5}});
}
function txt(x,y,t,align){ G.push({type:'text', z:1, x:x, y:y, style:{text:t, font:LF, fill:'#000', align:align||'left', verticalAlign:'middle', rich:legRich}}); }
function seg(x1,x2,y,c){ G.push({type:'line', z:1, shape:{x1:x1,y1:y,x2:x2,y2:y}, style:{stroke:c, lineWidth:1}}); }
function dot(x,y,c){ G.push({type:'circle', z:1, shape:{cx:x,cy:y,r:3}, style:{fill:c}}); }

box(213,27,142,41);
seg(220,260,39,'#ff0000'); txt(266,39,LEG_I[0][0]); txt(349,39,LEG_I[0][1],'right');
seg(220,260,55,'#0000ff'); txt(266,55,LEG_I[1][0]); txt(349,55,LEG_I[1][1],'right');

box(241,146,114,25);
seg(247,288,158,'#ffa500'); txt(349,158,LEG_L[0],'right'); txt(349,158,LEG_L[1],'right');

box(260,264,95,25);
dot(268,276,'#0000ff'); txt(349,276,LEG_EPS_HER,'right');

box(199,380,156,52);
dot(208,394,'#0000ff'); txt(232,394,LEG_XI_HER[0][0]); txt(348,394,LEG_XI_HER[0][1],'right');
dot(208,417,'#00ffff'); txt(232,417,LEG_XI_HER[1][0]); txt(348,417,LEG_XI_HER[1][1],'right');

box(260,502,95,24);
dot(268,514,'#ff0000'); txt(349,514,LEG_EPS_LER,'right');

box(919,617,156,53);
dot(927,631,'#ff0000'); txt(952,631,LEG_XI_LER[0][0]); txt(1064,631,LEG_XI_LER[0][1],'right');
dot(927,653,'#ffa500'); txt(952,653,LEG_XI_LER[1][0]); txt(1069,653,LEG_XI_LER[1][1],'right');

G.push({type:'text', z:1, x:77, y:768, style:{text:DATE_LABEL, font:'21px '+MONO, fill:'#000', verticalAlign:'middle'}});

const chart = echarts.init(document.getElementById('c'), null, {renderer:'canvas'});
chart.setOption({
  animation:false, backgroundColor:'#fff',
  grid:grids, xAxis:xAxes, yAxis:yAxes, series:series, graphic:G
});
</script></body></html>
